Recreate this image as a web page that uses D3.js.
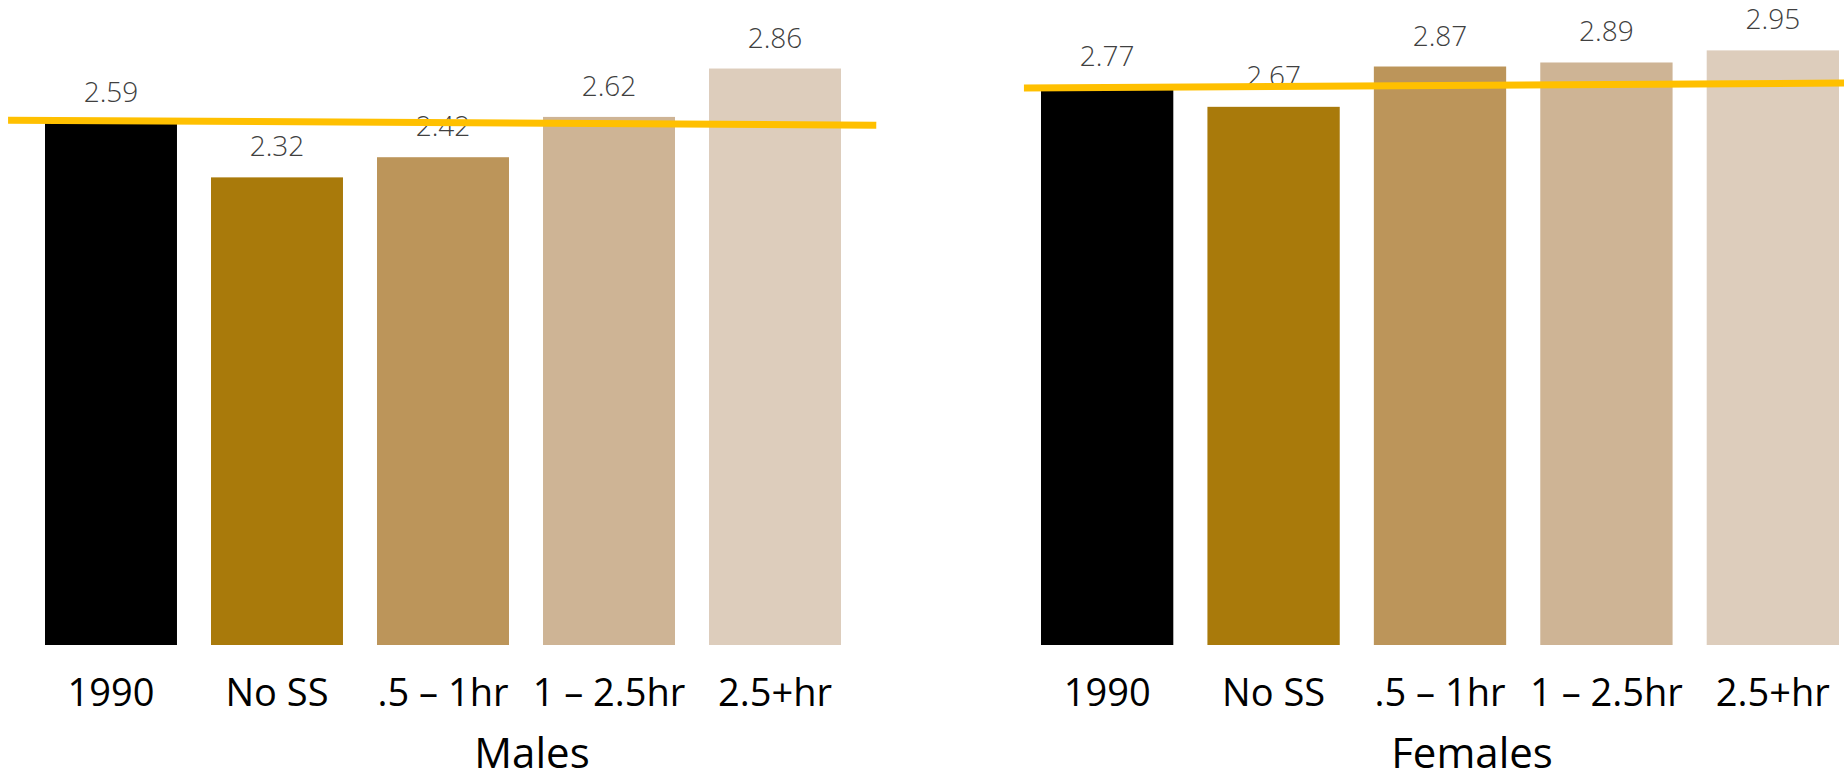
<!DOCTYPE html>
<html lang="en">
	<head>
		<meta charset="UTF-8" />
		<title>Males / Females</title>
		<script src="https://d3js.org/d3.v7.min.js"></script>
		<style>
			body { margin: 0; background: #fff; }
			svg text { font-family: "Open Sans", "Liberation Sans", sans-serif; }
		</style>
	</head>
	<body>
		<svg id="chart"></svg>
		<script>
			// categories and values
			var categories = ["1990", "No SS", ".5 \u2013 1hr", "1 \u2013 2.5hr", "2.5+hr"];
			var males = [2.59, 2.32, 2.42, 2.62, 2.86];
			var females = [2.77, 2.67, 2.87, 2.89, 2.95];
			// yellow reference line: category index (centre units) and value at each end
			var lineMales = [{ at: -0.62, value: 2.604 }, { at: 4.61, value: 2.579 }];
			var lineFemales = [{ at: -0.5, value: 2.763 }, { at: 4.45, value: 2.788 }];
			var colors = ["#000000", "#a97a0b", "#bc955a", "#ceb495", "#ddcdbc"];

			var width = 1844;
			var height = 782;
			var base = 645;

			var svg = d3.select("#chart").attr("width", width).attr("height", height);

			var y = d3.scaleLinear().domain([0, 3.2]).range([base, 0]);

			var panels = [
				{ title: "Males", values: males, line: lineMales, range: [45, 841], titleX: 532 },
				{ title: "Females", values: females, line: lineFemales, range: [1041, 1839], titleX: 1472 },
			];

			panels.forEach(function (p) {
				var x = d3.scaleBand().domain(categories).range(p.range).paddingInner(0.205).paddingOuter(0);
				var g = svg.append("g");

				g.selectAll("rect")
					.data(p.values)
					.enter()
					.append("rect")
					.attr("x", function (d, i) { return x(categories[i]); })
					.attr("y", function (d) { return y(d); })
					.attr("width", x.bandwidth())
					.attr("height", function (d) { return base - y(d); })
					.attr("fill", function (d, i) { return colors[i]; });

				g.selectAll(".val")
					.data(p.values)
					.enter()
					.append("text")
					.attr("class", "val")
					.attr("x", function (d, i) { return x(categories[i]) + x.bandwidth() / 2; })
					.attr("y", function (d) { return y(d) - 21; })
					.attr("text-anchor", "middle")
					.attr("font-size", 28)
					.attr("font-weight", 300)
					.attr("fill", "#404040")
					.text(function (d) { return d.toFixed(2); });

				// category axis, no line or ticks
				var axis = g.append("g")
					.attr("transform", "translate(0," + 706 + ")")
					.call(d3.axisBottom(x).tickSize(0).tickPadding(0));
				axis.select(".domain").remove();
				axis.selectAll("text")
					.attr("dy", 0)
					.attr("font-size", 38)
					.attr("fill", "#000")
					.style("font-family", "'Open Sans', 'Liberation Sans', sans-serif");

				g.append("text")
					.attr("x", p.titleX)
					.attr("y", 768)
					.attr("text-anchor", "middle")
					.attr("font-size", 42)
					.attr("fill", "#000")
					.text(p.title);

				// line drawn on top of bars and labels
				var step = x.step();
				var c0 = x(categories[0]) + x.bandwidth() / 2;
				var line = d3.line()
					.x(function (d) { return c0 + d.at * step; })
					.y(function (d) { return y(d.value); });
				g.append("path")
					.datum(p.line)
					.attr("d", line)
					.attr("fill", "none")
					.attr("stroke", "#ffc000")
					.attr("stroke-width", 7);
			});
		</script>
	</body>
</html>
